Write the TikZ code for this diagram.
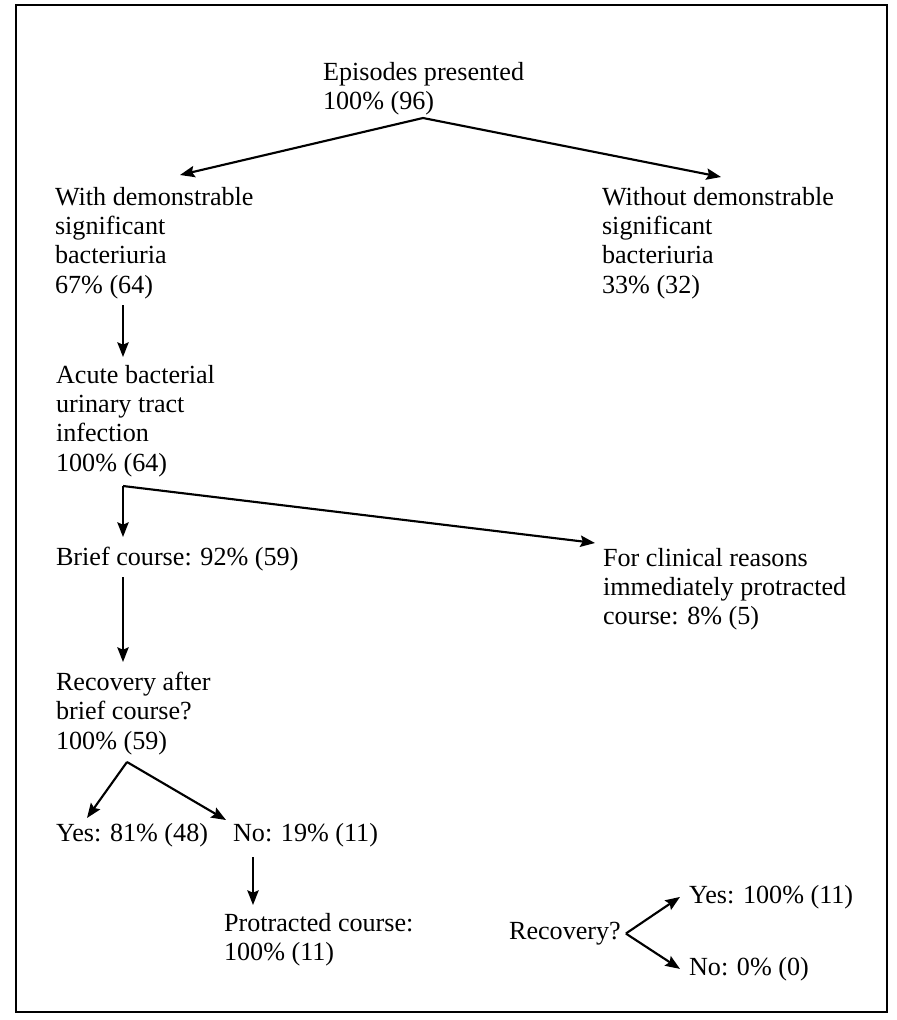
\documentclass[tikz,border=0pt]{standalone}
\usepackage{fontspec}
\setmainfont{Liberation Serif}
\usetikzlibrary{arrows.meta}
\usetikzlibrary{calc}
\usetikzlibrary{positioning}
\newcommand\linewd{1.6pt}
\newcommand\framewd{1.6pt}
\tikzset{>={Stealth[length=11pt,width=8.5pt,inset=1.8pt]}}
\tikzstyle{graph} = [line width=\linewd]
\tikzstyle{boxframe} = [line width=\framewd]

\begin{document}
\begin{tikzpicture}[x=0.75pt, y=-0.75pt, graph]
  \tikzstyle{every node}=[anchor=north west, inner sep=0pt, align=left,
    font=\fontsize{19.6}{22}\selectfont]
  \useasboundingbox (0,0) rectangle (896,1020);
  \draw[boxframe] (16,5) rectangle (887,1012);
  \draw (322,61) node (epi) {Episodes presented\\100\% (96)};
  \draw (54,186) node (withb) {With demonstrable\\significant\\bacteriuria\\67\% (64)};
  \draw (601,186) node (withoutb) {Without demonstrable\\significant\\bacteriuria\\33\% (32)};
  \draw (55,364) node (acute) {Acute bacterial\\urinary tract\\infection\\100\% (64)};
  \draw (55,546) node (brief) {Brief course: 92\% (59)};
  \draw (602,547) node (clin) {For clinical reasons\\immediately protracted\\course: 8\% (5)};
  \draw (55,671) node (recov) {Recovery after\\brief course?\\100\% (59)};
  \draw (55,822) node (yes1) {Yes: 81\% (48)};
  \draw (232,822) node (no1) {No: 19\% (11)};
  \draw (223,912) node (prot) {Protracted course:\\100\% (11)};
  \draw (508,921) node (recq) {Recovery?};
  \draw (688,884) node (yes2) {Yes: 100\% (11)};
  \draw (688,956) node (no2) {No: 0\% (0)};
  % branch points
  \coordinate (j0) at (423,118);
  \coordinate (j1) at (123,486);
  \coordinate (j2) at (127,762);
  \coordinate (j3) at ($(recq.east)+(4,0)$);
  \draw (j0) -- ($(withb.north west)+(126,-11)$) [->];
  \draw (j0) -- ($(withoutb.north west)+(120,-9)$) [->];
  \draw ($(withb.north west)+(69,119)$) -- ($(acute.north west)+(68,-7)$) [->];
  \draw (j1) -- ($(brief.north west)+(68,-9)$) [->];
  \draw (j1) -- ($(clin.north west)+(-7,-4)$) [->];
  \draw ($(brief.north west)+(68,31)$) -- ($(recov.north west)+(68,-9)$) [->];
  \draw (j2) -- ($(yes1.north west)+(32,-4)$) [->];
  \draw (j2) -- ($(no1.north west)+(-6,-2)$) [->];
  \draw ($(no1.north west)+(21,35)$) -- ($(prot.north west)+(30,-7)$) [->];
  \draw (j3) -- ($(yes2.west)+(-8,0)$) [->];
  \draw (j3) -- ($(no2.west)+(-8,0)$) [->];
\end{tikzpicture}
\end{document}
